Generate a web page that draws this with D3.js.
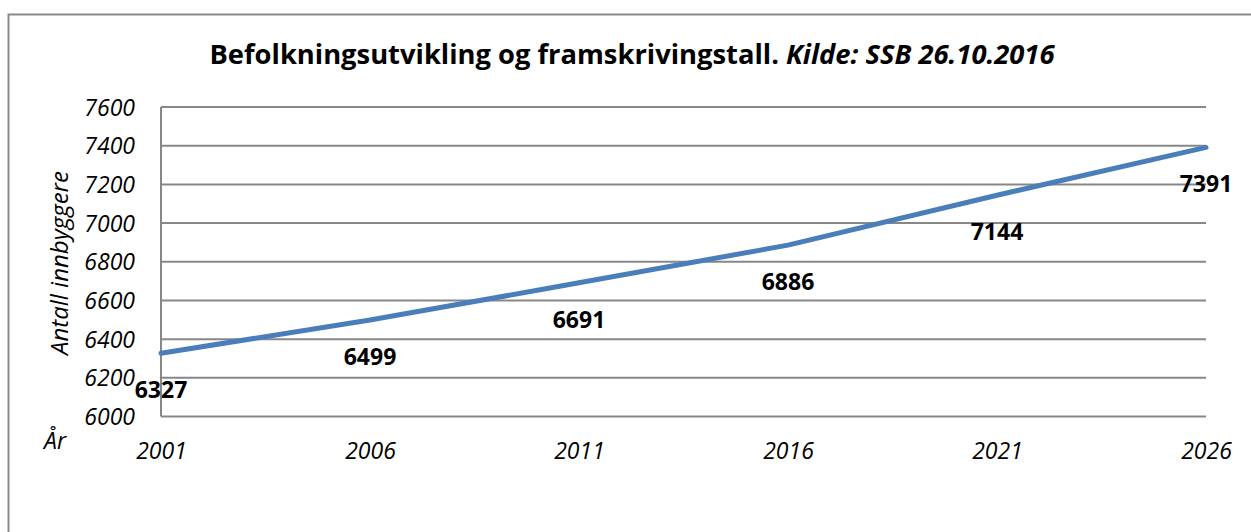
<!DOCTYPE html>
<html>
<head>
<meta charset="utf-8">
<script src="https://cdn.jsdelivr.net/npm/d3@7"></script>
<style>
	body { margin: 0; background: #ffffff; }
	svg { display: block; }
</style>
</head>
<body>
<div id="chart"></div>
<script>
// data
var years = ["2001", "2006", "2011", "2016", "2021", "2026"];
var population = [6327, 6499, 6691, 6886, 7144, 7391];
var yTicks = [6000, 6200, 6400, 6600, 6800, 7000, 7200, 7400, 7600];

var width = 1251, height = 532;
// plot area edges (don't call one of them "top", that is window.top)
var plotLeft = 161, plotRight = 1206, plotTop = 107, plotBottom = 416.5;
var font = "'Open Sans', 'DejaVu Sans', sans-serif";

var svg = d3.select("#chart").append("svg")
	.attr("width", width).attr("height", height);

// outer chart frame (right and bottom edges are off the picture)
svg.append("rect").attr("x", 8.5).attr("y", 14.5)
	.attr("width", width + 20).attr("height", height + 20)
	.attr("fill", "white").attr("stroke", "#8a8a8a").attr("stroke-width", 2);

var x = d3.scalePoint().domain(years).range([plotLeft, plotRight]).padding(0);
var y = d3.scaleLinear().domain([6000, 7600]).range([plotBottom, plotTop]);

// gridlines
svg.append("g").selectAll("line").data(yTicks).enter().append("line")
	.attr("x1", plotLeft).attr("x2", plotRight)
	.attr("y1", function(d) { return y(d); })
	.attr("y2", function(d) { return y(d); })
	.attr("stroke", "#878787").attr("stroke-width", 2);

// y axis line
svg.append("line").attr("x1", plotLeft).attr("x2", plotLeft)
	.attr("y1", y(7600)).attr("y2", y(6000))
	.attr("stroke", "#878787").attr("stroke-width", 2);

// y tick labels
var yAxis = d3.axisLeft(y).tickValues(yTicks).tickSize(0).tickPadding(26)
	.tickFormat(d3.format("d"));
var gy = svg.append("g").attr("transform", "translate(" + plotLeft + ",0)").call(yAxis);
gy.select(".domain").remove();
gy.selectAll("text").attr("font-family", font).attr("font-size", "23px")
	.attr("font-style", "italic").attr("fill", "#000").attr("dy", "0.35em");

// x tick labels
var xAxis = d3.axisBottom(x).tickSize(0).tickPadding(0);
var gx = svg.append("g").attr("transform", "translate(0," + 459 + ")").call(xAxis);
gx.select(".domain").remove();
gx.selectAll("text").attr("font-family", font).attr("font-size", "23px")
	.attr("font-style", "italic").attr("fill", "#000").attr("dy", 0).attr("y", 0);

// the line
var line = d3.line()
	.x(function(d, i) { return x(years[i]); })
	.y(function(d) { return y(d); });
svg.append("path").datum(population).attr("d", line)
	.attr("fill", "none").attr("stroke", "#4a7ebb").attr("stroke-width", 5)
	.attr("stroke-linecap", "round").attr("stroke-linejoin", "round");

// data labels, placed below each point
svg.append("g").selectAll("text").data(population).enter().append("text")
	.text(function(d) { return d; })
	.attr("x", function(d, i) { return x(years[i]); })
	.attr("y", function(d) { return y(d) + 45; })
	.attr("text-anchor", "middle").attr("font-family", font)
	.attr("font-size", "23px").attr("font-weight", "bold").attr("fill", "#000");

// title
var title = svg.append("text").attr("x", 632).attr("y", 64)
	.attr("text-anchor", "middle").attr("font-family", font)
	.attr("font-size", "26px").attr("font-weight", "bold")
	.attr("textLength", 845).attr("lengthAdjust", "spacingAndGlyphs");
title.append("tspan").text("Befolkningsutvikling og framskrivingstall. ");
title.append("tspan").attr("font-style", "italic").text("Kilde: SSB 26.10.2016");

// axis titles
svg.append("text").text("Antall innbyggere")
	.attr("transform", "translate(68,263) rotate(-90)")
	.attr("text-anchor", "middle").attr("font-family", font)
	.attr("font-size", "24px").attr("font-style", "italic").attr("fill", "#000");

svg.append("text").text("År").attr("x", 44).attr("y", 449)
	.attr("font-family", font).attr("font-size", "23px")
	.attr("font-style", "italic").attr("fill", "#000");
</script>
</body>
</html>
